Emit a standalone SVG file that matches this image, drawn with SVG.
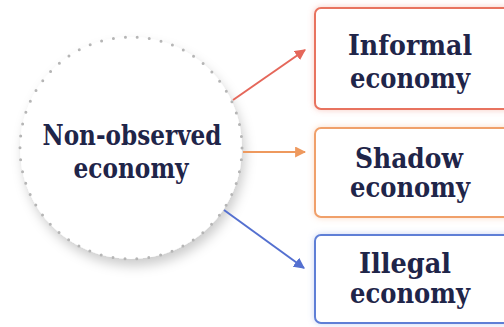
<svg xmlns="http://www.w3.org/2000/svg" width="504" height="327" viewBox="0 0 504 327">
  <style>
    .lbl { font-family: "DejaVu Serif", "Liberation Serif", serif; font-weight: bold; font-size: 27px; fill: #1f2549; text-anchor: middle; }
    .box { fill: #ffffff; stroke-width: 2; }
    .conn { fill: none; stroke-width: 2; }
  </style>
  <defs>
    <filter id="soft" x="-20%" y="-20%" width="150%" height="150%">
      <feDropShadow dx="3" dy="7" stdDeviation="6" flood-color="#000" flood-opacity="0.2"/>
    </filter>
    <filter id="glowRed" x="-10%" y="-20%" width="130%" height="140%">
      <feDropShadow dx="0" dy="0" stdDeviation="3" flood-color="#f08a78" flood-opacity="0.45"/>
    </filter>
    <filter id="glowOrange" x="-10%" y="-20%" width="130%" height="140%">
      <feDropShadow dx="0" dy="0" stdDeviation="3" flood-color="#f4b080" flood-opacity="0.45"/>
    </filter>
    <filter id="glowBlue" x="-10%" y="-20%" width="130%" height="140%">
      <feDropShadow dx="0" dy="0" stdDeviation="3" flood-color="#8aa2e6" flood-opacity="0.45"/>
    </filter>
    <marker id="headRed" viewBox="0 0 10 10" refX="9" refY="5" markerWidth="5.5" markerHeight="5.5" orient="auto" markerUnits="strokeWidth">
      <path d="M0,0 L10,5 L0,10 Z" fill="#e5675a"/>
    </marker>
    <marker id="headOrange" viewBox="0 0 10 10" refX="9" refY="5" markerWidth="5.5" markerHeight="5.5" orient="auto" markerUnits="strokeWidth">
      <path d="M0,0 L10,5 L0,10 Z" fill="#ee995e"/>
    </marker>
    <marker id="headBlue" viewBox="0 0 10 10" refX="9" refY="5" markerWidth="5.5" markerHeight="5.5" orient="auto" markerUnits="strokeWidth">
      <path d="M0,0 L10,5 L0,10 Z" fill="#5470d0"/>
    </marker>
  </defs>

  <rect width="504" height="327" fill="#ffffff"/>

  <!-- central circle -->
  <g id="non-observed">
    <circle cx="131" cy="148" r="111" fill="#ffffff" filter="url(#soft)"/>
    <circle cx="131" cy="148" r="111" fill="none" stroke="#b5b5b5" stroke-width="3" stroke-linecap="round" stroke-dasharray="0 12.02"/>
    <text class="lbl" x="132" y="145" textLength="179" lengthAdjust="spacingAndGlyphs">Non-observed</text>
    <text class="lbl" x="131" y="178" textLength="115" lengthAdjust="spacingAndGlyphs">economy</text>
  </g>

  <!-- connectors -->
  <g id="connectors">
    <line class="conn" x1="233" y1="100" x2="305" y2="50" stroke="#e5675a" marker-end="url(#headRed)"/>
    <line class="conn" x1="243" y1="152" x2="305" y2="152" stroke="#ee995e" marker-end="url(#headOrange)"/>
    <line class="conn" x1="224" y1="210" x2="304" y2="268" stroke="#5470d0" marker-end="url(#headBlue)"/>
  </g>

  <g id="informal">
    <rect class="box" x="315" y="8" width="200" height="101" rx="6" stroke="#e8735f" filter="url(#glowRed)"/>
    <text class="lbl" x="410" y="55" textLength="124" lengthAdjust="spacingAndGlyphs">Informal</text>
    <text class="lbl" x="410" y="88" textLength="120" lengthAdjust="spacingAndGlyphs">economy</text>
  </g>

  <g id="shadow">
    <rect class="box" x="315" y="128" width="200" height="89" rx="6" stroke="#f0a06a" filter="url(#glowOrange)"/>
    <text class="lbl" x="409" y="168" textLength="108" lengthAdjust="spacingAndGlyphs">Shadow</text>
    <text class="lbl" x="410" y="197" textLength="120" lengthAdjust="spacingAndGlyphs">economy</text>
  </g>

  <g id="illegal">
    <rect class="box" x="315" y="235" width="200" height="88" rx="6" stroke="#5f7fd6" filter="url(#glowBlue)"/>
    <text class="lbl" x="405" y="273" textLength="92" lengthAdjust="spacingAndGlyphs">Illegal</text>
    <text class="lbl" x="410" y="303" textLength="120" lengthAdjust="spacingAndGlyphs">economy</text>
  </g>
</svg>
